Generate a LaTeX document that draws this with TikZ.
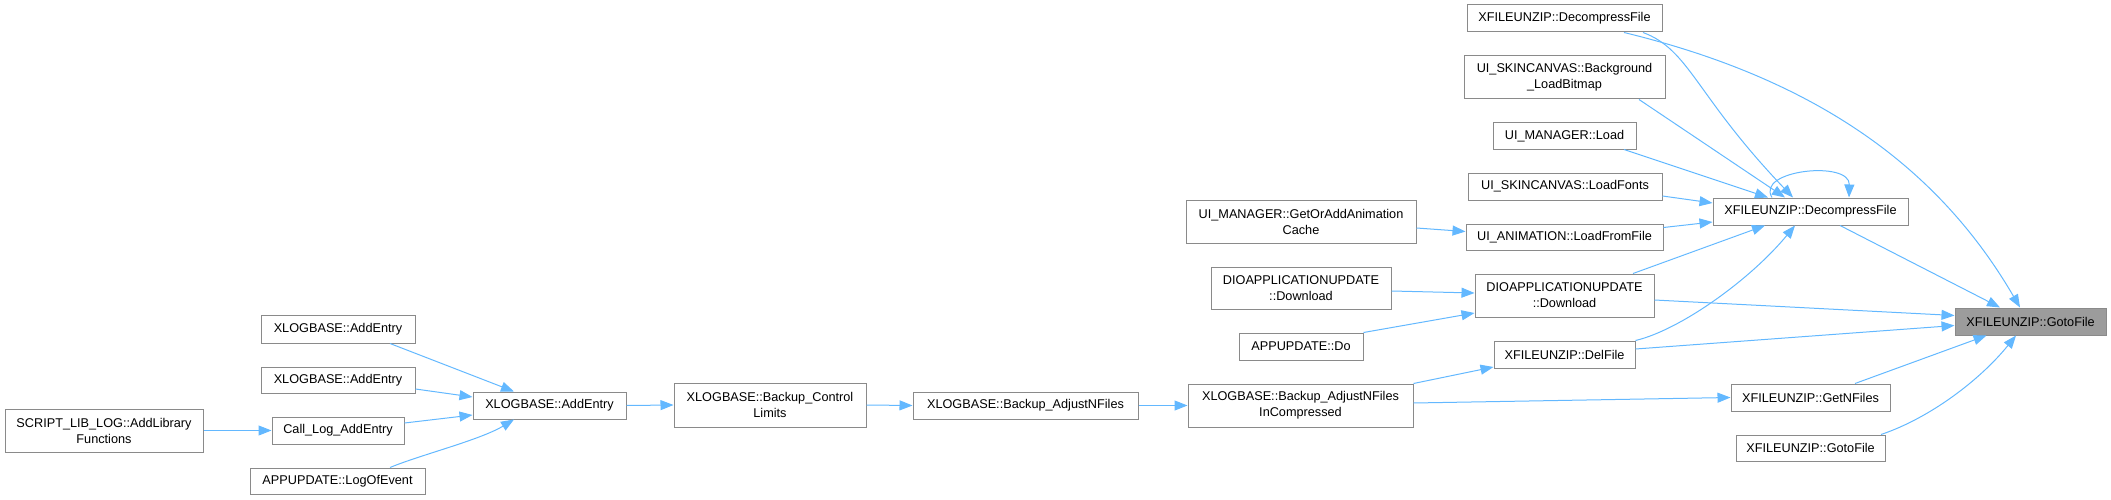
\documentclass[tikz,border=0pt]{standalone}
\usepackage{fontspec}
\setmainfont{Liberation Sans}
\usetikzlibrary{arrows.meta,calc}
\definecolor{edgeblue}{HTML}{63B8FF}
\definecolor{boxline}{HTML}{8A8A8A}
\definecolor{mainfill}{HTML}{9C9C9C}
\begin{document}
\begin{tikzpicture}[x=1pt,y=-1pt,
  fn/.style={draw=boxline, fill=white, line width=1pt, inner sep=0pt, align=center,
    font=\fontsize{12.7}{16}\selectfont},
  focus/.style={fn, fill=mainfill},
  calls/.style={draw=edgeblue, line width=1pt, -{Triangle[length=13pt,width=10pt]}}
]
\useasboundingbox (0,0) rectangle (2111,500);

% nodes
\node[focus, minimum width=151, minimum height=27] (goto) at (2030.5,321.5) {XFILEUNZIP::GotoFile};
\node[fn, minimum width=195, minimum height=27] (dtop) at (1564.5,18.5) {XFILEUNZIP::DecompressFile};
\node[fn, minimum width=201, minimum height=43] (bg) at (1564.5,77.5) {UI\_SKINCANVAS::Background\\\_LoadBitmap};
\node[fn, minimum width=143, minimum height=26] (uiml) at (1564.5,136) {UI\_MANAGER::Load};
\node[fn, minimum width=194, minimum height=27] (fonts) at (1565,186.5) {UI\_SKINCANVAS::LoadFonts};
\node[fn, minimum width=195, minimum height=27] (dmid) at (1810.5,211.5) {XFILEUNZIP::DecompressFile};
\node[fn, minimum width=197, minimum height=26] (lff) at (1564.5,237.5) {UI\_ANIMATION::LoadFromFile};
\node[fn, minimum width=230, minimum height=43] (cache) at (1301,221.5) {UI\_MANAGER::GetOrAddAnimation\\Cache};
\node[fn, minimum width=179, minimum height=43] (dlR) at (1564.5,295.5) {DIOAPPLICATIONUPDATE\\::Download};
\node[fn, minimum width=180, minimum height=42] (dlL) at (1301,288) {DIOAPPLICATIONUPDATE\\::Download};
\node[fn, minimum width=124, minimum height=27] (appdo) at (1301,346.5) {APPUPDATE::Do};
\node[fn, minimum width=141, minimum height=27] (del) at (1564.5,354.5) {XFILEUNZIP::DelFile};
\node[fn, minimum width=225, minimum height=43] (inc) at (1300.5,405.5) {XLOGBASE::Backup\_AdjustNFiles\\InCompressed};
\node[fn, minimum width=159, minimum height=27] (getn) at (1810.5,397.5) {XFILEUNZIP::GetNFiles};
\node[fn, minimum width=149, minimum height=26] (gotob) at (1810.5,448) {XFILEUNZIP::GotoFile};
\node[fn, minimum width=192, minimum height=44] (ctrl) at (770,405) {XLOGBASE::Backup\_Control\\Limits};
\node[fn, minimum width=225, minimum height=27] (adj) at (1025.5,405.5) {XLOGBASE::Backup\_AdjustNFiles};
\node[fn, minimum width=154, minimum height=28] (ae1) at (338,329) {XLOGBASE::AddEntry};
\node[fn, minimum width=154, minimum height=26] (ae2) at (338,380) {XLOGBASE::AddEntry};
\node[fn, minimum width=153, minimum height=27] (aem) at (549.5,405.5) {XLOGBASE::AddEntry};
\node[fn, minimum width=198, minimum height=43] (script) at (104,430.5) {SCRIPT\_LIB\_LOG::AddLibrary\\Functions};
\node[fn, minimum width=132, minimum height=27] (call) at (338,430.5) {Call\_Log\_AddEntry};
\node[fn, minimum width=175, minimum height=26] (logev) at (337.5,481) {APPUPDATE::LogOfEvent};

% connectors into the focus node
\draw[calls] ($(dtop.south)+(59.5,0)$) .. controls (1820,80) and (1940,170) .. ($(goto.north)+(-10.5,0)$);
\draw[calls] ($(dmid.south)+(29.5,0)$) -- ($(goto.north)+(-30.5,0)$);
\draw[calls] ($(dlR.east)+(0,4.5)$) -- ($(goto.west)+(0,-6)$);
\draw[calls] ($(del.east)+(0,-5.5)$) -- ($(goto.west)+(0,4)$);
\draw[calls] ($(getn.north)+(44.5,0)$) -- ($(goto.south)+(-44,0)$);
\draw[calls] ($(gotob.north)+(70.5,0)$) .. controls (1930,418) and (1980,380) .. ($(goto.south)+(-14.5,0)$);

% connectors into the middle DecompressFile
\draw[calls] ($(dtop.south)+(78.5,0)$) .. controls (1690,50) and (1695,95) .. ($(dmid.north)+(-17.5,0)$);
\draw[calls] ($(bg.south)+(74.5,0)$) -- ($(dmid.north)+(-25.5,0)$);
\draw[calls] ($(uiml.south)+(59.5,0)$) -- ($(dmid.north)+(-42.5,0)$);
\draw[calls] ($(fonts.east)+(0,9.5)$) -- ($(dmid.west)+(0,-8.5)$);
\draw[calls] ($(lff.east)+(0,-10)$) -- ($(dmid.west)+(0,10.5)$);
\draw[calls] ($(dmid.north)+(-38.5,0)$) .. controls (1755,170) and (1850,160) .. ($(dmid.north)+(38.5,0)$);
\draw[calls] ($(dlR.north)+(68.5,0)$) -- ($(dmid.south)+(-45.5,0)$);
\draw[calls] (del.north east) .. controls (1680,330) and (1750,280) .. ($(dmid.south)+(-15.5,0)$);

% middle column
\draw[calls] ($(cache.east)+(0,6.5)$) -- ($(lff.west)+(0,-6)$);
\draw[calls] ($(dlL.east)+(0,3)$) -- ($(dlR.west)+(0,-2.5)$);
\draw[calls] (appdo.north east) -- ($(dlR.west)+(0,17.5)$);
\draw[calls] (inc.north east) -- ($(del.west)+(0,12.5)$);
\draw[calls] ($(inc.east)+(0,-2.5)$) -- (getn.west);

% chain
\draw[calls] (adj.east) -- (inc.west);
\draw[calls] (ctrl.east) -- (adj.west);
\draw[calls] (aem.east) -- (ctrl.west);

% left part
\draw[calls] ($(ae1.south)+(52,0)$) -- ($(aem.north)+(-35.5,0)$);
\draw[calls] ($(ae2.east)+(0,9)$) -- ($(aem.west)+(0,-8.5)$);
\draw[calls] ($(call.east)+(0,-7.5)$) -- ($(aem.west)+(0,9.5)$);
\draw[calls] ($(logev.north)+(52.5,0)$) .. controls (420,455) and (480,440) .. ($(aem.south)+(-35.5,0)$);
\draw[calls] (script.east) -- (call.west);
\end{tikzpicture}
\end{document}
